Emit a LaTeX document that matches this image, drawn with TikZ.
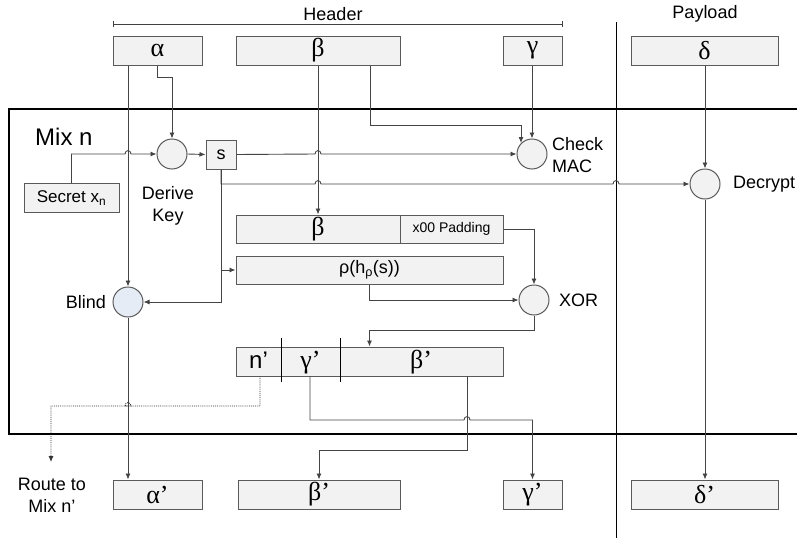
\documentclass[tikz,border=0pt]{standalone}
\usepackage{fontspec}
\setmainfont{Liberation Sans}
\newfontfamily\grk{Liberation Serif}
\usetikzlibrary{arrows.meta,calc}
\definecolor{boxfill}{HTML}{F2F2F2}
\definecolor{bordergray}{HTML}{5A5A5A}
\definecolor{linegray}{HTML}{444444}
\definecolor{blindfill}{HTML}{E6ECF6}
\begin{document}
\begin{tikzpicture}[x=1pt,y=-1pt,
  box/.style={draw=bordergray, fill=boxfill, line width=1pt, minimum height=29pt, inner sep=0pt},
  circ/.style={circle, draw=bordergray, fill=boxfill, line width=1pt, minimum size=30pt, inner sep=0pt},
  gk/.style={font=\grk\fontsize{26}{28}\selectfont},
  lbl/.style={font=\fontsize{18}{22}\selectfont, inner sep=0pt, align=center},
  conn/.style={draw=linegray, line width=0.9pt},
  arr/.style={conn, -{Latex[length=6pt,width=5pt]}},
  hjump/.style 2 args={insert path={-- (#1-3,#2) .. controls (#1-3,#2-4.5) and (#1+3,#2-4.5) .. (#1+3,#2)}}
]
\useasboundingbox (0,0) rectangle (797,538);

% header / payload
\node[lbl] (hdr) at (333,14) {Header};
\coordinate (hl) at (113,24);
\coordinate (hr) at (563,24);
\draw[line width=0.8pt, black!75, {Bar[width=6pt]}-{Bar[width=6pt]}] (hl) -- (hr);
\node[lbl] (pay) at (705,14) {Payload};
\coordinate (pt) at (616,22);
\coordinate (pb) at (616,538);
\draw[line width=1pt, black] (pt) -- (pb);

% mix box
\coordinate (m1) at (800,109);
\coordinate (m2) at (9,109);
\coordinate (m3) at (9,434);
\coordinate (m4) at (800,434);
\draw[line width=2pt, black] (m1) -- (m2) -- (m3) -- (m4);
\node[font=\fontsize{24}{28}\selectfont, anchor=west, inner sep=0pt] (mixn) at (35,137) {Mix n};

% top boxes
\node[box, gk, minimum width=89pt] (alpha) at (157.5,50.5) {α};
\node[box, gk, minimum width=164pt] (beta) at (318,50.5) {β};
\node[box, gk, minimum width=59pt] (gamma) at (532.5,50.5) {γ};
\node[box, gk, minimum width=147pt] (delta) at (704.5,50.5) {δ};

% inner nodes
\node[circ] (derive) at (172,154) {};
\node[box, minimum width=30pt, font=\fontsize{18}{22}\selectfont] (sbox) at (221,154.5) {s};
\node[box, minimum width=95pt, font=\fontsize{17}{20}\selectfont] (secret) at (71.5,198) {Secret x\textsubscript{n}};
\node[lbl] (derivelbl) at (168,206) {Derive\\Key};
\node[circ] (check) at (532,154) {};
\node[lbl, anchor=west, align=left] (checklbl) at (552,155) {Check\\MAC};
\node[circ] (decrypt) at (705,184) {};
\node[lbl, anchor=west] (decryptlbl) at (733,184) {Decrypt};

\node[box, gk, minimum width=164pt, minimum height=28pt] (betain) at (318,229) {β};
\node[box, minimum width=103pt, minimum height=28pt, font=\fontsize{14}{16}\selectfont] (pad) at (451.5,229) {x00 Padding};
\node[box, minimum width=267pt, minimum height=28pt, font=\fontsize{18}{22}\selectfont] (rho) at (369.5,270) {ρ(h\textsubscript{ρ}(s))};

\node[circ, fill=blindfill] (blind) at (128,302) {};
\node[lbl, anchor=east] (blindlbl) at (106,302) {Blind};
\node[circ] (xor) at (534,300) {};
\node[lbl, anchor=west] (xorlbl) at (559,300) {XOR};

\node[box, minimum width=267pt] (out) at (369.5,361.5) {};
\coordinate (d1t) at (281,338);
\coordinate (d1b) at (281,382);
\coordinate (d2t) at (340,338);
\coordinate (d2b) at (340,382);
\draw[line width=1pt, black] (d1t) -- (d1b) (d2t) -- (d2b);
\node[font=\fontsize{24}{26}\selectfont, inner sep=0pt] (nprime) at (258.5,360) {n’};
\node[gk, inner sep=0pt] (gprime) at (310.5,363) {γ’};
\node[gk, inner sep=0pt] (bprime) at (421,362) {β’};

% bottom boxes
\node[box, gk, minimum width=89pt] (alphap) at (157.5,494.5) {α’};
\node[box, gk, minimum width=162pt] (betap) at (319,494.5) {β’};
\node[box, gk, minimum width=59pt] (gammap) at (532.5,494.5) {γ’};
\node[box, gk, minimum width=147pt] (deltap) at (704.5,494.5) {δ’};
\node[lbl] (route) at (52,495) {Route to\\Mix n’};

% connectors
\draw[arr] (alpha.south -| blind) -- (blind.north);
\coordinate (a1) at (157.5,77);
\draw[arr] (alpha.south) -- (a1) -| (derive.north);
\draw[arr] (secret.north) |- (125,154) [hjump={128}{154}] -- (derive.west);
\draw[arr] (derive.east) -- (sbox.west);
\draw[arr] (sbox.east) [hjump={318}{154}] -- (check.west);
\draw[arr] (beta.south) -- (betain.north);
\coordinate (b1) at (370,125);
\draw[arr] (beta.south -| b1) -- (b1) -| (check.north west);
\draw[arr] (gamma.south -| check) -- (check.north);
\draw[arr] (sbox.south) |- (315,184) [hjump={318}{184}] [hjump={616}{184}] -- (decrypt.west);
\draw[arr] (sbox.south) |- (rho.west);
\draw[arr] (sbox.south) |- (blind.east);
\draw[arr] (delta.south -| decrypt) -- (decrypt.north);
\draw[arr] (decrypt.south) -- (decrypt.south |- deltap.north);
\draw[arr] (pad.east) -| (xor.north);
\draw[arr] (rho.south) |- (xor.west);
\coordinate (x1) at (534,330);
\draw[arr] (xor.south) -- (x1) -| (out.north);
\draw[arr] (blind.south) -- (blind.south |- alphap.north);
\coordinate (r1) at (260,376);
\coordinate (r2) at (51,462);
\draw[conn, densely dotted, draw=black!80, -{Latex[length=6pt,width=5pt,sep=0pt]}] (r1) -- (260,406) [hjump={128}{406}] -- (51,406) -- (r2);
\coordinate (g1) at (310,376);
\draw[arr] (g1) -- (310,420) [hjump={467}{420}] -| (gammap.north);
\coordinate (bb1) at (467,376);
\draw[arr] (bb1) -- (467,450) -| (betap.north);
\end{tikzpicture}
\end{document}
